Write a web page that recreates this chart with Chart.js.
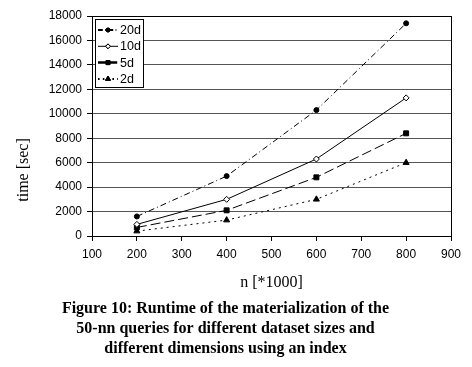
<!DOCTYPE html>
<html>
<head>
<meta charset="utf-8">
<script src="https://cdn.jsdelivr.net/npm/chart.js@4/dist/chart.umd.min.js"></script>
<style>
html,body{margin:0;padding:0;background:#fff;}
#c{display:block;}
</style>
</head>
<body>
<canvas id="c" width="472" height="367"></canvas>
<script>
// ---- data ----
const sizes = [200, 400, 600, 800];          // n [*1000]
const labels = ['20d', '10d', '5d', '2d'];
const t20d = [1600, 4900, 10300, 17400];
const t10d = [950, 3000, 6300, 11300];
const t5d  = [700, 2100, 4800, 8400];
const t2d  = [400, 1300, 3000, 6000];
const xTicks = [100, 200, 300, 400, 500, 600, 700, 800, 900];
const yTicks = [0, 2000, 4000, 6000, 8000, 10000, 12000, 14000, 16000, 18000];
const xTitle = 'n [*1000]';
const yTitle = 'time [sec]';
const caption = ['Figure 10: Runtime of the materialization of the',
                 '50-nn queries for different dataset sizes and',
                 'different dimensions using an index'];

const series = [t20d, t10d, t5d, t2d];
const styles = [
  {pointStyle:'circle', radius:2.5, fill:'#000', dash:[6,3,1,3], legendWidth:2},
  {pointStyle:'rectRot', radius:3, fill:'#fff', dash:[], legendWidth:1},
  {pointStyle:'rect', radius:3.5, fill:'#000', dash:[10,4], legendWidth:2.5},
  {pointStyle:'triangle', radius:3.5, fill:'#000', dash:[2,4], legendWidth:2}
];

const datasets = series.map((vals, i) => ({
  label: labels[i],
  data: sizes.map((x, j) => ({x: x, y: vals[j]})),
  borderColor: '#000',
  backgroundColor: styles[i].fill,
  borderWidth: 1,
  borderDash: styles[i].dash,
  pointStyle: styles[i].pointStyle,
  pointRadius: styles[i].radius,
  pointBorderColor: '#000',
  pointBackgroundColor: styles[i].fill,
  pointBorderWidth: 1,
  fill: false,
  tension: 0
}));

const sans = "'Liberation Sans', Arial, sans-serif";
const serif = "'Liberation Serif', 'Times New Roman', serif";

const frameAndLegend = {
  id: 'frameAndLegend',
  afterDatasetsDraw(chart) {
    const ctx = chart.ctx;
    const a = chart.chartArea;
    ctx.save();
    ctx.strokeStyle = '#000';
    ctx.lineWidth = 1;
    ctx.setLineDash([]);
    ctx.strokeRect(Math.round(a.left) + 0.5, Math.round(a.top) + 0.5,
                   Math.round(a.right - a.left), Math.round(a.bottom - a.top));
    // y axis title, placed as in the reference (below the plot's middle)
    ctx.save();
    ctx.translate(24, 170);
    ctx.rotate(-Math.PI / 2);
    ctx.font = '16px ' + serif;
    ctx.fillStyle = '#000';
    ctx.textAlign = 'center';
    ctx.textBaseline = 'middle';
    ctx.fillText(yTitle, 0, 0);
    ctx.restore();
    // legend box
    const lx = a.left + 3, ly = a.top + 3, lw = 48, lh = 68;
    ctx.fillStyle = '#fff';
    ctx.fillRect(lx, ly, lw, lh);
    ctx.strokeRect(Math.round(lx) + 0.5, Math.round(ly) + 0.5, lw, lh);
    chart.data.datasets.forEach((ds, i) => {
      const y = ly + 11 + i * 16.3;
      const x0 = lx + 3, x1 = lx + 23, xm = (x0 + x1) / 2;
      ctx.beginPath();
      ctx.setLineDash(ds.borderDash && ds.borderDash.length ? ds.borderDash.map(v => v * 0.8) : []);
      ctx.lineWidth = styles[i].legendWidth;
      ctx.moveTo(x0, y);
      ctx.lineTo(x1, y);
      ctx.stroke();
      ctx.setLineDash([]);
      ctx.lineWidth = 1;
      Chart.helpers.drawPoint(ctx, {
        pointStyle: ds.pointStyle, radius: ds.pointRadius * 0.8, rotation: 0,
        borderWidth: 1
      }, xm, y);
      ctx.fillStyle = ds.pointBackgroundColor;
      ctx.fill();
      ctx.stroke();
      ctx.fillStyle = '#000';
      ctx.font = '12.5px ' + sans;
      ctx.textBaseline = 'middle';
      ctx.textAlign = 'left';
      ctx.fillText(ds.label, x1 + 2, y + 0.5);
    });
    ctx.restore();
  }
};

new Chart(document.getElementById('c'), {
  type: 'line',
  data: {datasets: datasets},
  plugins: [frameAndLegend],
  options: {
    responsive: false,
    animation: false,
    devicePixelRatio: 1,
    layout: {padding: {left: 0, right: 21, top: 16, bottom: 0}},
    plugins: {
      legend: {display: false},
      tooltip: {enabled: false},
      title: {
        display: true,
        position: 'bottom',
        text: caption,
        color: '#000',
        font: {family: serif, size: 16, weight: 'bold', lineHeight: 1.25},
        padding: {top: 0, bottom: 8}
      }
    },
    scales: {
      x: {
        type: 'linear',
        min: xTicks[0],
        max: xTicks[xTicks.length - 1],
        afterBuildTicks: s => { s.ticks = xTicks.map(v => ({value: v})); },
        afterFit: s => { s.height = 63; },
        grid: {drawOnChartArea: false, drawTicks: true, tickLength: 5, tickColor: '#000'},
        border: {display: true, color: '#000', width: 1},
        ticks: {color: '#000', font: {family: sans, size: 12}, padding: 6, maxRotation: 0},
        title: {display: true, text: xTitle, color: '#000',
                font: {family: serif, size: 16}, padding: {top: 0, bottom: 7}}
      },
      y: {
        type: 'linear',
        min: yTicks[0],
        max: yTicks[yTicks.length - 1],
        afterBuildTicks: s => { s.ticks = yTicks.map(v => ({value: v})); },
        afterFit: s => { s.width = 92; },
        grid: {color: '#555', lineWidth: 1, drawTicks: true, tickLength: 5, tickColor: '#000'},
        border: {display: true, color: '#000', width: 1},
        ticks: {color: '#000', font: {family: sans, size: 12}, padding: 5,
                callback: v => String(v)},
        title: {display: false}
      }
    }
  }
});
</script>
</body>
</html>
